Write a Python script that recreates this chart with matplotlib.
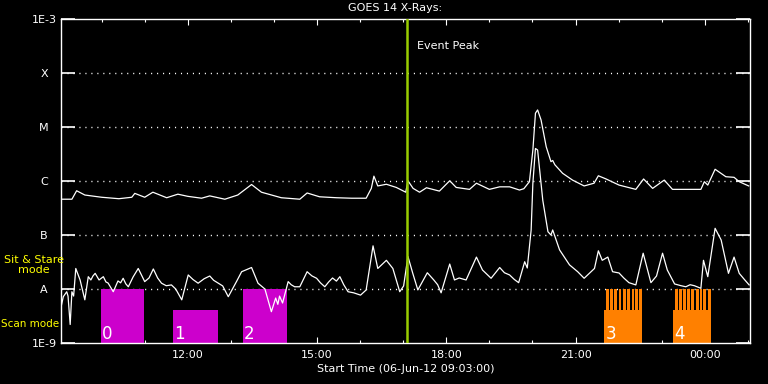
import matplotlib
matplotlib.use('Agg')
import matplotlib.pyplot as plt
import matplotlib.transforms as mtransforms

# times are hours since 06-Jun-12 00:00 (values above 24 fall on 07-Jun)
long_t = [9.05, 9.31, 9.42, 9.61, 10.00, 10.40, 10.70, 10.77, 11.00, 11.19,
          11.51, 11.77, 12.00, 12.32, 12.51, 12.86, 13.16, 13.48, 13.71, 14.17,
          14.60, 14.77, 15.06, 15.45, 15.80, 16.14, 16.26, 16.32, 16.41, 16.61,
          16.84, 17.06, 17.11, 17.23, 17.38, 17.54, 17.84, 18.08, 18.23, 18.54,
          18.70, 19.00, 19.24, 19.47, 19.70, 19.80, 19.93, 20.01, 20.07, 20.12,
          20.20, 20.32, 20.43, 20.47, 20.52, 20.70, 20.93, 21.20, 21.43, 21.53,
          21.71, 22.01, 22.40, 22.58, 22.79, 23.06, 23.25, 23.56, 23.91, 23.99,
          24.07, 24.24, 24.49, 24.68, 24.80, 25.02]
long_flux = [4.6e-7, 4.6e-7, 6.6e-7, 5.5e-7, 5.0e-7, 4.7e-7, 5.0e-7, 5.9e-7, 5.0e-7, 6.2e-7,
             4.9e-7, 5.7e-7, 5.2e-7, 4.8e-7, 5.3e-7, 4.6e-7, 5.5e-7, 8.6e-7, 6.2e-7, 4.9e-7,
             4.6e-7, 6.0e-7, 5.1e-7, 4.9e-7, 4.8e-7, 4.8e-7, 7.3e-7, 1.23e-6, 8.1e-7, 8.7e-7,
             7.6e-7, 6.2e-7, 1.01e-6, 7.3e-7, 6.2e-7, 7.5e-7, 6.5e-7, 1.01e-6, 7.6e-7, 7.0e-7,
             9.1e-7, 7.0e-7, 7.8e-7, 7.8e-7, 6.8e-7, 7.2e-7, 9.7e-7, 3.75e-6, 1.8e-5, 2.07e-5,
             1.35e-5, 4.3e-6, 2.28e-6, 2.4e-6, 2.0e-6, 1.39e-6, 1.04e-6, 8.1e-7, 9.1e-7, 1.25e-6,
             1.09e-6, 8.4e-7, 7.0e-7, 1.09e-6, 7.3e-7, 1.04e-6, 7.0e-7, 7.0e-7, 7.0e-7, 9.7e-7,
             8.4e-7, 1.65e-6, 1.2e-6, 1.17e-6, 9.7e-7, 8.1e-7]

short_t = [9.06, 9.11, 9.19, 9.22, 9.27, 9.31, 9.35, 9.40, 9.50, 9.61,
           9.69, 9.75, 9.80, 9.85, 9.94, 10.04, 10.10, 10.15, 10.27, 10.38,
           10.44, 10.50, 10.56, 10.62, 10.73, 10.85, 11.00, 11.10, 11.20, 11.30,
           11.39, 11.50, 11.62, 11.72, 11.86, 12.01, 12.12, 12.24, 12.38, 12.51,
           12.60, 12.70, 12.81, 12.94, 13.13, 13.25, 13.48, 13.63, 13.79, 13.94,
           14.04, 14.09, 14.13, 14.20, 14.33, 14.40, 14.48, 14.60, 14.77, 14.88,
           14.99, 15.08, 15.18, 15.27, 15.36, 15.45, 15.53, 15.62, 15.72, 15.85,
           16.01, 16.14, 16.30, 16.41, 16.61, 16.76, 16.92, 17.01, 17.11, 17.22,
           17.34, 17.56, 17.71, 17.80, 17.88, 18.08, 18.19, 18.30, 18.46, 18.70,
           18.84, 19.04, 19.24, 19.35, 19.47, 19.58, 19.68, 19.82, 19.88, 19.97,
           20.01, 20.07, 20.12, 20.24, 20.36, 20.43, 20.47, 20.63, 20.86, 21.05,
           21.20, 21.44, 21.53, 21.62, 21.75, 21.86, 22.01, 22.12, 22.24, 22.40,
           22.57, 22.75, 22.88, 23.02, 23.13, 23.30, 23.45, 23.56, 23.66, 23.76,
           23.91, 23.97, 24.07, 24.24, 24.38, 24.55, 24.68, 24.80, 24.92, 25.03]
short_flux = [4.7e-9, 7.2e-9, 8.9e-9, 7.4e-9, 2.2e-9, 8.9e-9, 7.4e-9, 2.4e-8, 1.47e-8, 6.3e-9,
              1.69e-8, 1.47e-8, 1.75e-8, 1.95e-8, 1.47e-8, 1.69e-8, 1.35e-8, 1.29e-8, 8.9e-9, 1.41e-8,
              1.3e-8, 1.58e-8, 1.25e-8, 1.1e-8, 1.67e-8, 2.4e-8, 1.37e-8, 1.6e-8, 2.35e-8, 1.6e-8,
              1.28e-8, 1.15e-8, 1.19e-8, 1.0e-8, 6.3e-9, 1.82e-8, 1.5e-8, 1.28e-8, 1.55e-8, 1.74e-8,
              1.45e-8, 1.29e-8, 1.14e-8, 7.2e-9, 1.37e-8, 2.09e-8, 2.5e-8, 1.28e-8, 1.0e-8, 3.8e-9,
              6.8e-9, 5.2e-9, 7.4e-9, 5.5e-9, 1.37e-8, 1.2e-8, 1.1e-8, 1.1e-8, 2.09e-8, 1.75e-8,
              1.58e-8, 1.3e-8, 1.1e-8, 1.35e-8, 1.6e-8, 1.4e-8, 1.69e-8, 1.2e-8, 8.9e-9, 8.5e-9,
              7.7e-9, 9.6e-9, 6.3e-8, 2.4e-8, 3.4e-8, 2.4e-8, 8.9e-9, 1.14e-8, 4.0e-8, 1.98e-8,
              9.6e-9, 2.0e-8, 1.47e-8, 1.2e-8, 8.5e-9, 2.9e-8, 1.47e-8, 1.6e-8, 1.47e-8, 3.9e-8,
              2.25e-8, 1.58e-8, 2.5e-8, 2.0e-8, 1.82e-8, 1.5e-8, 1.31e-8, 3.2e-8, 2.45e-8, 1.24e-7,
              9.1e-7, 4.0e-6, 3.75e-6, 4.4e-7, 1.15e-7, 1.0e-7, 1.24e-7, 5.3e-8, 2.8e-8, 2.09e-8,
              1.58e-8, 2.4e-8, 5.1e-8, 3.4e-8, 3.9e-8, 2.09e-8, 1.98e-8, 1.6e-8, 1.31e-8, 1.19e-8,
              4.6e-8, 1.31e-8, 1.74e-8, 4.6e-8, 2.25e-8, 1.24e-8, 1.15e-8, 1.1e-8, 1.2e-8, 1.15e-8,
              1.03e-8, 3.4e-8, 1.69e-8, 1.33e-7, 8.1e-8, 1.95e-8, 3.9e-8, 1.95e-8, 1.5e-8, 1.19e-8]

event_peak = 17.08

# observing blocks: 0-2 sit & stare, 3-4 raster scans
block_names = ['0', '1', '2', '3', '4']
block_start = [9.98, 11.65, 13.28, 21.67, 23.27]
block_end = [10.99, 12.69, 14.31, 22.55, 24.13]
block_top = [1e-8, 4.1e-9, 1e-8, 4.1e-9, 4.1e-9]
raster_starts = [21.71, 21.81, 21.90, 22.00, 22.10, 22.20, 22.30, 22.39, 22.48,
                 23.32, 23.41, 23.50, 23.59, 23.69, 23.79, 23.88, 23.97, 24.07]
raster_len = 0.066
raster_top = 1e-8

level_vals = [1e-9, 1e-8, 1e-7, 1e-6, 1e-5, 1e-4, 1e-3]
level_names = ['1E-9', 'A', 'B', 'C', 'M', 'X', '1E-3']
hour_ticks = [12, 15, 18, 21, 24]
hour_names = ['12:00', '15:00', '18:00', '21:00', '00:00']

fig = plt.figure(figsize=(7.68, 3.84), dpi=100, facecolor='black')
ax = fig.add_axes([60.7 / 768, 1 - 343 / 384, (750 - 60.7) / 768, (343 - 19) / 384])
ax.set_facecolor('black')
ax.set_yscale('log')
ax.set_xlim(9.05, 25.05)
ax.set_ylim(1e-9, 1e-3)

# blocks
for i in range(len(block_names)):
    col = '#cc00cc' if i < 3 else '#ff8000'
    ax.bar(block_start[i], block_top[i] - 1e-9, width=block_end[i] - block_start[i],
           bottom=1e-9, align='edge', color=col, linewidth=0, zorder=2)
    ax.text(block_start[i] + 0.03, 0.012, block_names[i], color='white', fontsize=12,
            transform=mtransforms.blended_transform_factory(ax.transData, ax.transAxes),
            ha='left', va='baseline', zorder=5)
for s in raster_starts:
    ax.bar(s, raster_top - 1e-9, width=raster_len, bottom=1e-9, align='edge',
           color='#ff8000', linewidth=0, zorder=2)

# dotted level lines
for v in level_vals[1:-1]:
    ax.axhline(v, color='white', lw=1.0, ls=(0, (0.8, 3.5)), zorder=1)

ax.plot(long_t, long_flux, color='white', lw=0.9, zorder=3)
ax.plot(short_t, short_flux, color='white', lw=0.9, zorder=3)

ax.axvline(event_peak, color='#99cc00', lw=1.8, zorder=4)
ax.text(event_peak + 0.25, 3.2e-4, 'Event Peak', color='white', fontsize=8, va='center')

ax.set_yticks(level_vals)
ax.set_yticklabels(level_names)
ax.yaxis.set_minor_locator(plt.NullLocator())
ax.tick_params(axis='y', which='major', direction='in', length=10, width=1.2,
               left=True, right=True, colors='white', labelsize=8, pad=12)
for lbl in ax.get_yticklabels():
    lbl.set_ha('center')

ax.set_xticks(hour_ticks)
ax.set_xticklabels(hour_names)
ax.set_xticks(list(range(10, 26)), minor=True)
ax.tick_params(axis='x', which='major', direction='in', length=4, width=0.8,
               top=True, bottom=True, colors='white', labelsize=8, pad=5)
ax.tick_params(axis='x', which='minor', direction='in', length=2, width=0.8,
               top=True, bottom=True, colors='white')
ax.set_xlabel('Start Time (06-Jun-12 09:03:00)', color='white', fontsize=8, labelpad=3)

for sp in ax.spines.values():
    sp.set_color('white')
    sp.set_linewidth(1.0)

fig.text(395 / 768, 1 - 8 / 384, 'GOES 14 X-Rays:', color='white', fontsize=8,
         ha='center', va='center')
fig.text(34 / 768, 1 - 265 / 384, 'Sit & Stare\nmode', color='#ffff00', fontsize=8,
         ha='center', va='center', linespacing=1.0)
fig.text(30 / 768, 1 - 324 / 384, 'Scan mode', color='#ffff00', fontsize=7.5,
         ha='center', va='center')

fig.savefig('out.png', dpi=100, facecolor='black')
